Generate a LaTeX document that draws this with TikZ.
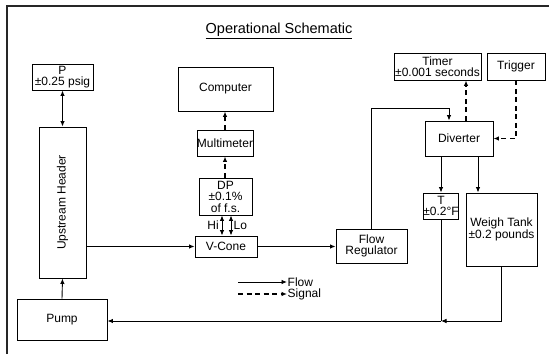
\documentclass[tikz,border=0pt]{standalone}
\usepackage{fontspec}
\setmainfont{Liberation Sans}
\usetikzlibrary{arrows.meta,calc}
\begin{document}
\begin{tikzpicture}[x=1pt,y=-1pt,
  box/.style={draw=black,line width=0.9pt,inner sep=0pt,align=center,
    font=\fontsize{12}{11.5}\selectfont},
  flow/.style={line width=0.9pt,-{Latex[length=5.5pt,width=4.5pt]}},
  flowtwo/.style={line width=0.9pt,{Latex[length=5.5pt,width=4.5pt]}-{Latex[length=5.5pt,width=4.5pt]}},
  plain/.style={line width=0.9pt},
  signal/.style={line width=1.1pt,dash pattern=on 5pt off 3.5pt,-{Latex[length=5.5pt,width=4.5pt]}},
  lbl/.style={inner sep=1pt,font=\fontsize{12}{12}\selectfont}]
\useasboundingbox (0,0) rectangle (549,354);
% frame
\draw[line width=1.8pt,black!85] (7,354) -- (7,6) -- (549,6);
% title
\node[inner sep=0pt,font=\fontsize{14.5}{16}\selectfont] (title) at (279,31) {\underline{Operational Schematic}};
% boxes
\node[box,minimum width=61pt,minimum height=26pt] (P) at (62.5,77) {P\\±0.25 psig};
\node[box,minimum width=47pt,minimum height=151pt] (H) at (62.5,202.5) {};
\node[rotate=90,inner sep=0pt,font=\fontsize{12}{12}\selectfont] (Htext) at (H.center) {Upstream Header};
\node[box,minimum width=90pt,minimum height=41pt] (Pump) at (62,319.5) {Pump};
\node[box,minimum width=95pt,minimum height=44pt] (Comp) at (225.5,89) {Computer};
\node[box,minimum width=56pt,minimum height=26pt] (MM) at (225,143) {Multimeter};
\node[box,minimum width=53pt,minimum height=37pt] (DP) at (225.5,196.5) {DP\\±0.1\%\\of f.s.};
\node[box,minimum width=62pt,minimum height=21pt] (VC) at (226,246.5) {V-Cone};
\node[box,minimum width=71pt,minimum height=34pt] (FR) at (371.5,246) {Flow\\Regulator};
\node[box,minimum width=87pt,minimum height=27pt] (Timer) at (437.5,66.5) {Timer\\±0.001 seconds};
\node[box,minimum width=58pt,minimum height=27pt] (Trig) at (516,66.5) {Trigger};
\node[box,minimum width=68pt,minimum height=35pt] (Div) at (459,138.5) {Diverter};
\node[box,minimum width=32pt,minimum height=26pt] (T) at (441,206) {T\\±0.2°F};
\node[box,minimum width=71pt,minimum height=73pt] (WT) at (501.5,229.5) {Weigh Tank\\±0.2 pounds};
% helper coordinates
\coordinate (hi) at (222,0);
\coordinate (lo) at (231,0);
\coordinate (fr) at (449,108);
\coordinate (tm) at (466,0);
\coordinate (wt) at (478,0);
\coordinate (j) at (441,321);
% flow connectors
\draw[flowtwo] (P.south) -- (H.north);
\draw[flow] (Pump.north) -- (H.south);
\draw[flow] (VC.west -| H.east) -- (VC.west);
\draw[flow] (VC.east) -- (VC.east -| FR.west);
\draw[flowtwo] (hi |- DP.south) -- (hi |- VC.north);
\draw[flowtwo] (lo |- DP.south) -- (lo |- VC.north);
\node[lbl,anchor=east,inner sep=0pt,xshift=-3pt] (Hi) at ($(hi |- DP.south)!0.5!(hi |- VC.north)$) {Hi};
\node[lbl,anchor=west,inner sep=0pt,xshift=2.5pt] (Lo) at ($(lo |- DP.south)!0.5!(lo |- VC.north)$) {Lo};
\draw[plain] (FR.north) |- (fr);
\draw[flow] (fr) -- (fr |- Div.north);
\draw[flow] (T.north |- Div.south) -- (T.north);
\draw[flow] (wt |- Div.south) -- (wt |- WT.north);
\draw[plain] (T.south) -- (j);
\draw[flow] (WT.south) |- (j);
\draw[flow] (j) -- (j -| Pump.east);
% signal connectors
\draw[signal] (DP.north -| MM.south) -- (MM.south);
\draw[signal] (MM.north) -- (MM.north |- Comp.south);
\draw[signal] (tm |- Div.north) -- (tm |- Timer.south);
\draw[signal] (Trig.south) |- (Div.east);
% legend
\coordinate (lf1) at (238,282);
\coordinate (lf2) at (287,282);
\coordinate (ls1) at (238,294);
\coordinate (ls2) at (287,294);
\draw[flow] (lf1) -- (lf2);
\draw[signal] (ls1) -- (ls2);
\node[lbl,anchor=west,inner sep=0.5pt] (lflow) at (lf2) {Flow};
\node[lbl,anchor=west,inner sep=0.5pt] (lsig) at (ls2) {Signal};
\end{tikzpicture}
\end{document}
